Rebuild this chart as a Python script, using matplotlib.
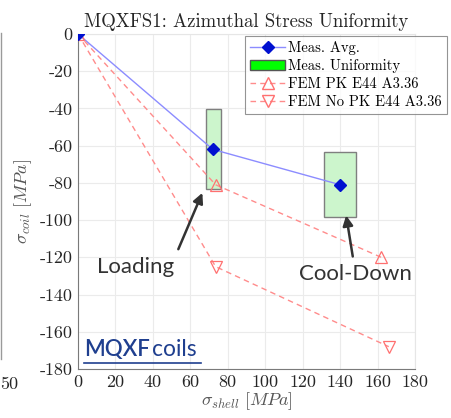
import matplotlib.pyplot as plt
from matplotlib.patches import Rectangle
from matplotlib.lines import Line2D

plt.rcParams['font.family'] = 'cmr10'
plt.rcParams['mathtext.fontset'] = 'cm'
plt.rcParams['axes.unicode_minus'] = False
plt.rcParams['axes.formatter.use_mathtext'] = False

# --- Data ---
shell_avg = [0, 72, 140]
coil_avg = [0, -62, -81]

# uniformity bands: (x_min, x_max, y_min, y_max)
band_x = [(68.5, 76.5), (131.5, 148.5)]
band_y = [(-83.5, -40.5), (-98.5, -63.5)]

shell_pk = [0, 73.5, 162]
coil_pk = [0, -81, -120]

shell_nopk = [0, 73.5, 166]
coil_nopk = [0, -125, -168]

xticks = list(range(0, 181, 20))
yticks = list(range(-180, 1, 20))

# --- Figure ---
fig = plt.figure(figsize=(4.52, 4.18), dpi=100)
ax = fig.add_axes([0.1726, 0.1172, 0.7455, 0.8015])

for (x0, x1), (y0, y1) in zip(band_x, band_y):
    ax.add_patch(Rectangle((x0, y0), x1 - x0, y1 - y0, facecolor='#ccf5cc',
                           edgecolor='#7f7f7f', lw=1.0, zorder=2))

ax.plot(shell_avg, coil_avg, color='#8c8cff', lw=1.0, zorder=3)
ax.plot(shell_avg, coil_avg, ls='none', marker='D', ms=6, color='#0010d0', zorder=5)

ax.plot(shell_pk, coil_pk, color='#ff8c8c', lw=1.0, ls='--', dashes=(4, 3),
        marker='^', ms=8, mfc='none', mec='#ff7070', mew=0.9, zorder=4)
ax.plot(shell_nopk, coil_nopk, color='#ff8c8c', lw=1.0, ls='--', dashes=(4, 3),
        marker='v', ms=8, mfc='none', mec='#ff7070', mew=0.9, zorder=4)

ax.set_xlim(0, 180)
ax.set_ylim(-180, 0)
ax.set_xticks(xticks)
ax.set_yticks(yticks)
ax.set_xticklabels([str(v) for v in xticks])
ax.set_yticklabels([str(v) for v in yticks])
ax.tick_params(length=0, pad=4, labelsize=13, labelcolor='#262626',
               labelfontfamily='cmr10')
ax.grid(True, color='#ebebeb', lw=0.8, zorder=0)
ax.set_axisbelow(True)
for s in ['top', 'right']:
    ax.spines[s].set_color('#e6e6e6')
for s in ['left', 'bottom']:
    ax.spines[s].set_color('#7a7a7a')

ax.set_xlabel(r'$\sigma_{shell}\ [MPa]$', fontsize=13, color='#555555', labelpad=0)
ax.set_ylabel(r'$\sigma_{coil}\ [MPa]$', fontsize=13, color='#555555', labelpad=4)
ax.set_title('MQXFS1: Azimuthal Stress Uniformity', fontsize=13.5, color='#262626', pad=5)

# legend
handles = [
    Line2D([], [], color='#8c8cff', lw=1.0, marker='D', ms=6, mfc='#0010d0', mec='#0010d0'),
    Rectangle((0, 0), 1, 1, facecolor='#00ff00', edgecolor='#555555'),
    Line2D([], [], color='#ff8c8c', lw=1.0, ls='--', dashes=(4, 3), marker='^', ms=8,
           mfc='none', mec='#ff7070'),
    Line2D([], [], color='#ff8c8c', lw=1.0, ls='--', dashes=(4, 3), marker='v', ms=8,
           mfc='none', mec='#ff7070'),
]
labels = ['Meas. Avg.', 'Meas. Uniformity', 'FEM PK E44 A3.36', 'FEM No PK E44 A3.36']
leg = ax.legend(handles, labels, loc='upper right', bbox_to_anchor=(1.095, 0.995),
                prop={'size': 10.5}, frameon=True, fancybox=False,
                borderpad=0.35, labelspacing=0.3, handlelength=2.4, handletextpad=0.2,
                borderaxespad=0)
leg.get_frame().set_edgecolor('#7a7a7a')
leg.get_frame().set_linewidth(0.8)

# annotations
arrow = dict(arrowstyle='-|>,head_length=0.6,head_width=0.3', color='#333333', lw=1.8)
ax.annotate('', xy=(67, -84), xytext=(53, -117), arrowprops=arrow, zorder=6)
ax.annotate('', xy=(143, -96), xytext=(147, -121), arrowprops=arrow, zorder=6)
ax.text(10, -125, 'Loading', fontfamily='Lato', fontsize=16, color='#333333',
        ha='left', va='center')
ax.text(118, -129, 'Cool-Down', fontfamily='Lato', fontsize=16, color='#333333',
        ha='left', va='center')
ax.text(3, -169.5, 'MQXF', fontfamily='Lato', fontsize=16, fontweight='semibold',
        color='#1f3f8f', ha='left', va='center')
ax.text(39.5, -169.5, 'coils', fontfamily='Lato', fontsize=16.5,
        color='#1f3f8f', ha='left', va='center')
ax.plot([3, 65.5], [-177, -177], color='#1f3f8f', lw=1.2, clip_on=False)

# neighbouring panel edge at the left border
fig.add_artist(Line2D([0.003, 0.003], [0.14, 0.92], color='#9a9a9a', lw=1.0))
fig.text(0.0, 0.07, '50', fontsize=13, color='#262626', ha='left')

fig.savefig('out.png', dpi=100)
